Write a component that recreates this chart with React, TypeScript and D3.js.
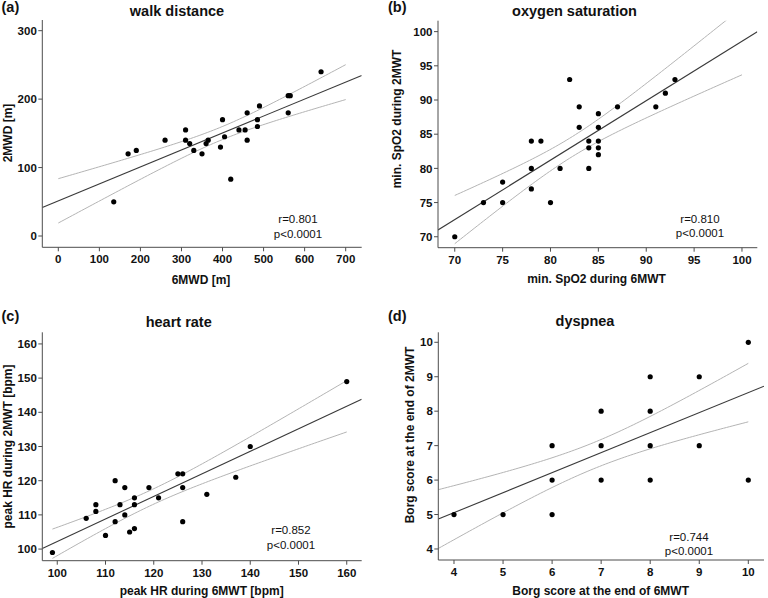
import React from "react";
import * as d3 from "d3";

// ---------- data ----------
const walkX = [135, 170, 190, 260, 310, 310, 320, 330, 350, 360, 365, 395, 400, 405, 420, 440, 455, 460, 460, 485, 485, 490, 560, 565, 560, 640];
const walkY = [50, 120, 125, 140, 155, 140, 135, 125, 120, 135, 140, 130, 170, 145, 83, 155, 155, 180, 140, 170, 160, 190, 205, 205, 180, 240];
const walkXTicks = [0, 100, 200, 300, 400, 500, 600, 700];
const walkYTicks = [0, 100, 200, 300];

const spo2X = [70, 73, 75, 75, 78, 79, 78, 78, 80, 81, 82, 83, 83, 84, 84, 84, 85, 85, 85, 85, 85, 87, 91, 92, 93];
const spo2Y = [70, 75, 78, 75, 84, 84, 80, 77, 75, 80, 93, 89, 86, 84, 83, 80, 88, 86, 84, 83, 82, 89, 89, 91, 93];
const spo2XTicks = [70, 75, 80, 85, 90, 95, 100];
const spo2YTicks = [70, 75, 80, 85, 90, 95, 100];

const hrX = [99, 106, 108, 108, 110, 112, 112, 113, 114, 114, 115, 116, 116, 116, 119, 121, 125, 126, 126, 126, 131, 137, 140, 160];
const hrY = [99, 109, 113, 111, 104, 120, 108, 113, 118, 110, 105, 115, 113, 106, 118, 115, 122, 122, 118, 108, 116, 121, 130, 149];
const hrXTicks = [100, 110, 120, 130, 140, 150, 160];
const hrYTicks = [100, 110, 120, 130, 140, 150, 160];

const borgX = [4, 5, 6, 6, 6, 7, 7, 7, 8, 8, 8, 8, 9, 9, 10, 10];
const borgY = [5, 5, 5, 6, 7, 6, 7, 8, 6, 7, 8, 9, 7, 9, 6, 10];
const borgXTicks = [4, 5, 6, 7, 8, 9, 10];
const borgYTicks = [4, 5, 6, 7, 8, 9, 10];
const borgFit = { intercept: 2.73, slope: 0.581, ciCenter: 6.85, ciMin: 0.38, ciSlope: 0.241 };

const titles = ["walk distance", "oxygen saturation", "heart rate", "dyspnea"];
const letters = ["(a)", "(b)", "(c)", "(d)"];
const xLabels = ["6MWD [m]", "min. SpO2 during 6MWT", "peak HR during 6MWT [bpm]", "Borg score at the end of 6MWT"];
const yLabels = ["2MWD [m]", "min. SpO2 during 2MWT", "peak HR during 2MWT [bpm]", "Borg score at the end of 2MWT"];
const rValues = ["r=0.801", "r=0.810", "r=0.852", "r=0.744"];
const pValues = ["p<0.0001", "p<0.0001", "p<0.0001", "p<0.0001"];

// ---------- layout ----------
const FONT = "'Liberation Sans', Arial, Helvetica, sans-serif";

type Fit = { intercept: number; slope: number; h: (x: number) => number };

function tQuantile975(df: number) {
  const z = 1.959964;
  return (
    z +
    (z ** 3 + z) / (4 * df) +
    (5 * z ** 5 + 16 * z ** 3 + 3 * z) / (96 * df * df) +
    (3 * z ** 7 + 19 * z ** 5 + 17 * z ** 3 - 15 * z) / (384 * df ** 3)
  );
}

function olsFit(xs: number[], ys: number[]): Fit {
  const n = xs.length;
  const mx = d3.mean(xs)!;
  const my = d3.mean(ys)!;
  const sxx = d3.sum(xs, (x) => (x - mx) ** 2);
  const syy = d3.sum(ys, (y) => (y - my) ** 2);
  const sxy = d3.sum(xs, (x, i) => (x - mx) * (ys[i] - my));
  const slope = sxy / sxx;
  const intercept = my - slope * mx;
  const s = Math.sqrt((syy - (sxy * sxy) / sxx) / (n - 2));
  const t = tQuantile975(n - 2);
  return { intercept, slope, h: (x) => t * s * Math.sqrt(1 / n + (x - mx) ** 2 / sxx) };
}

type Panel = {
  xs: number[];
  ys: number[];
  xDom: [number, number];
  yDom: [number, number];
  xr: [number, number];
  yr: [number, number];
  xTicks: number[];
  yTicks: number[];
  ciRange: [number, number];
  fit: Fit;
  titleX: number;
  titleY: number;
  letterX: number;
  letterY: number;
  xLabX: number;
  xLabY: number;
  yLabX: number;
  yLabY: number;
  annX: number;
  annY: number;
};

const panels: Panel[] = [
  {
    xs: walkX, ys: walkY,
    xDom: [-39, 739], yDom: [-16.5, 315.6],
    xr: [42.3, 361.7], yr: [247.3, 20],
    xTicks: walkXTicks, yTicks: walkYTicks,
    ciRange: [0, 700], fit: olsFit(walkX, walkY),
    titleX: 177, titleY: 15.5, letterX: 1.5, letterY: 12,
    xLabX: 201, xLabY: 284, yLabX: 12, yLabY: 133,
    annX: 298, annY: 223,
  },
  {
    xs: spo2X, ys: spo2Y,
    xDom: [68.25, 101.6], yDom: [68.4, 101.6],
    xr: [438, 757.3], yr: [247.7, 20.7],
    xTicks: spo2XTicks, yTicks: spo2YTicks,
    ciRange: [70, 100], fit: olsFit(spo2X, spo2Y),
    titleX: 574.5, titleY: 15.5, letterX: 388, letterY: 12,
    xLabX: 596.5, xLabY: 283, yLabX: 401, yLabY: 119,
    annX: 700, annY: 222.5,
  },
  {
    xs: hrX, ys: hrY,
    xDom: [96.9, 163.1], yDom: [96.6, 163.4],
    xr: [42.3, 361.7], yr: [560.7, 332.3],
    xTicks: hrXTicks, yTicks: hrYTicks,
    ciRange: [99, 160], fit: olsFit(hrX, hrY),
    titleX: 178.7, titleY: 327, letterX: 1.5, letterY: 321,
    xLabX: 201.7, xLabY: 594.5, yLabX: 12, yLabY: 446.5,
    annX: 291, annY: 534,
  },
  {
    xs: borgX, ys: borgY,
    xDom: [3.68, 10.32], yDom: [3.68, 10.29],
    xr: [438.3, 764], yr: [560, 332.3],
    xTicks: borgXTicks, yTicks: borgYTicks,
    ciRange: [3.68, 10],
    fit: {
      intercept: borgFit.intercept,
      slope: borgFit.slope,
      h: (x) => Math.sqrt(borgFit.ciMin ** 2 + borgFit.ciSlope ** 2 * (x - borgFit.ciCenter) ** 2),
    },
    titleX: 585, titleY: 326, letterX: 388, letterY: 321,
    xLabX: 600.7, xLabY: 594.5, yLabX: 414, yLabY: 435,
    annX: 689, annY: 540.5,
  },
];

function PanelView({ p, i }: { p: Panel; i: number }) {
  const x = d3.scaleLinear().domain(p.xDom).range(p.xr);
  const y = d3.scaleLinear().domain(p.yDom).range(p.yr);
  const f = p.fit;
  const clipId = `clip${i}`;
  const ciXs = d3.range(0, 101).map((k) => p.ciRange[0] + ((p.ciRange[1] - p.ciRange[0]) * k) / 100);
  const upper = d3
    .line<number>()
    .x((v) => x(v))
    .y((v) => y(f.intercept + f.slope * v + f.h(v)));
  const lower = d3
    .line<number>()
    .x((v) => x(v))
    .y((v) => y(f.intercept + f.slope * v - f.h(v)));
  const regPath = d3
    .line<number>()
    .x((v) => x(v))
    .y((v) => y(f.intercept + f.slope * v))(p.xDom);
  const axisColor = "#4d4d4d";
  return (
    <g>
      <defs>
        <clipPath id={clipId}>
          <rect x={p.xr[0]} y={p.yr[1]} width={p.xr[1] - p.xr[0]} height={p.yr[0] - p.yr[1]} />
        </clipPath>
      </defs>
      <g clipPath={`url(#${clipId})`}>
        <path d={upper(ciXs) || ""} fill="none" stroke="#b4b4b4" strokeWidth={1} />
        <path d={lower(ciXs) || ""} fill="none" stroke="#b4b4b4" strokeWidth={1} />
        <path d={regPath || ""} fill="none" stroke="#3a3a3a" strokeWidth={1.1} />
      </g>
      {p.xs.map((xv, k) => (
        <circle key={k} cx={x(xv)} cy={y(p.ys[k])} r={2.6} fill="#000" />
      ))}
      <line x1={p.xr[0]} x2={p.xr[0]} y1={p.yr[1]} y2={p.yr[0]} stroke={axisColor} strokeWidth={1} />
      <line x1={p.xr[0]} x2={p.xr[1]} y1={p.yr[0]} y2={p.yr[0]} stroke={axisColor} strokeWidth={1} />
      {p.yTicks.map((t) => (
        <g key={`y${t}`}>
          <line x1={p.xr[0] - 4} x2={p.xr[0]} y1={y(t)} y2={y(t)} stroke={axisColor} strokeWidth={1} />
          <text
            x={p.xr[0] - 5.5}
            y={y(t)}
            dy="0.36em"
            textAnchor="end"
            fontFamily={FONT}
            fontWeight="bold"
            fontSize={11.5}
            fill="#111"
          >
            {t}
          </text>
        </g>
      ))}
      {p.xTicks.map((t) => (
        <g key={`x${t}`}>
          <line x1={x(t)} x2={x(t)} y1={p.yr[0]} y2={p.yr[0] + 4} stroke={axisColor} strokeWidth={1} />
          <text
            x={x(t)}
            y={p.yr[0] + 16}
            textAnchor="middle"
            fontFamily={FONT}
            fontWeight="bold"
            fontSize={11.5}
            fill="#111"
          >
            {t}
          </text>
        </g>
      ))}
      <text x={p.titleX} y={p.titleY} textAnchor="middle" fontFamily={FONT} fontWeight="bold" fontSize={14.5} fill="#111">
        {titles[i]}
      </text>
      <text x={p.letterX} y={p.letterY} fontFamily={FONT} fontWeight="bold" fontSize={14.5} fill="#111">
        {letters[i]}
      </text>
      <text x={p.xLabX} y={p.xLabY} textAnchor="middle" fontFamily={FONT} fontWeight="bold" fontSize={12} fill="#111">
        {xLabels[i]}
      </text>
      <text
        transform={`translate(${p.yLabX},${p.yLabY}) rotate(-90)`}
        textAnchor="middle"
        fontFamily={FONT}
        fontWeight="bold"
        fontSize={12}
        fill="#111"
      >
        {yLabels[i]}
      </text>
      <text x={p.annX} y={p.annY} textAnchor="middle" fontFamily={FONT} fontSize={11.5} fill="#111">
        {rValues[i]}
      </text>
      <text x={p.annX} y={p.annY + 14.5} textAnchor="middle" fontFamily={FONT} fontSize={11.5} fill="#111">
        {pValues[i]}
      </text>
    </g>
  );
}

export default function App() {
  return (
    <svg
      width={768}
      height={598}
      viewBox="0 0 768 598"
      style={{ position: "absolute", left: 0, top: 0, background: "#fff" }}
    >
      <rect x={0} y={0} width={768} height={598} fill="#fff" />
      {panels.map((p, i) => (
        <PanelView key={i} p={p} i={i} />
      ))}
    </svg>
  );
}
